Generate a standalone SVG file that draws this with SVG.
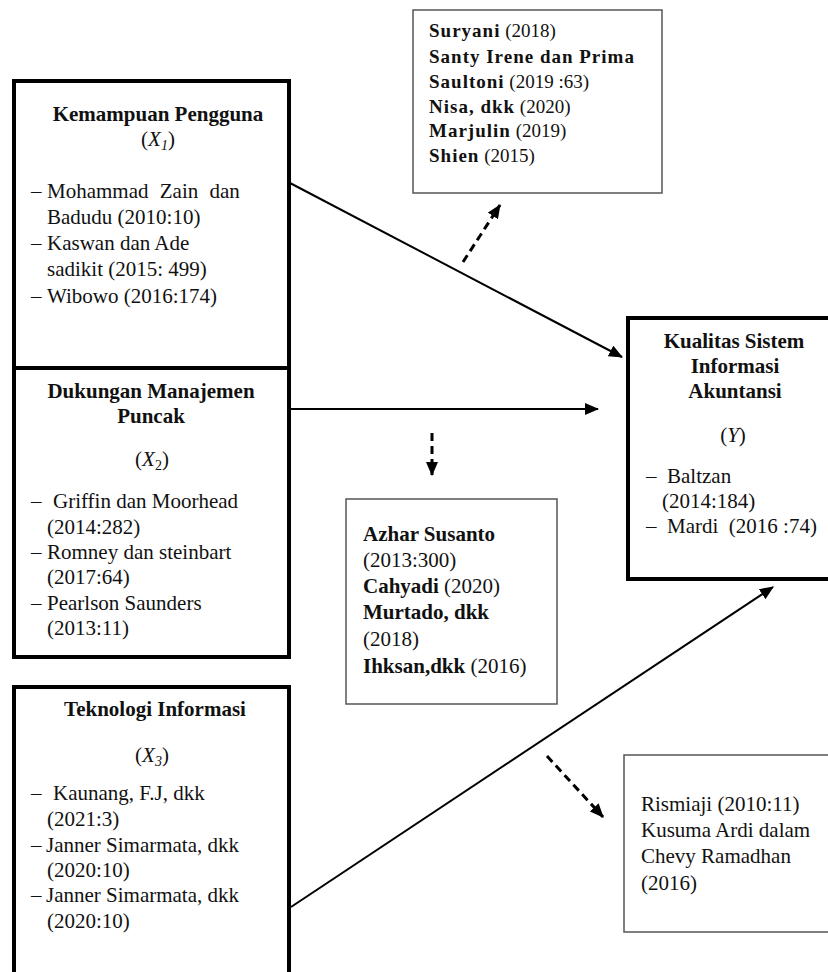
<svg xmlns="http://www.w3.org/2000/svg" width="828" height="972" viewBox="0 0 828 972">
<style>
text{font-family:"Liberation Serif","Times New Roman",serif;font-size:21px;fill:#111}
.b{font-weight:bold}
.i{font-style:italic}
.c{text-anchor:middle}
.thick{fill:#fff;stroke:#000;stroke-width:4}
.thin{fill:#fff;stroke:#555;stroke-width:1.5}
.sm text{font-size:19px}
.sm .b{letter-spacing:1px}
.con{stroke:#000;stroke-width:2;fill:none}
.dash{stroke:#000;stroke-width:3;fill:none;stroke-dasharray:8,5}
</style>
<defs>
<marker id="ah" markerWidth="14" markerHeight="12" refX="13" refY="6" orient="auto" markerUnits="userSpaceOnUse">
<path d="M0,0 L14,6 L0,12 Z" fill="#000"/>
</marker>
</defs>
<rect width="828" height="972" fill="#fff"/>

<g id="ref1" class="sm">
<rect class="thin" x="413" y="10" width="249" height="183"/>
<text x="429" y="37"><tspan class="b">Suryani</tspan> (2018)</text>
<text x="429" y="63" class="b">Santy Irene dan Prima</text>
<text x="429" y="88"><tspan class="b">Saultoni</tspan> (2019 :63)</text>
<text x="429" y="113"><tspan class="b">Nisa, dkk</tspan> (2020)</text>
<text x="429" y="137"><tspan class="b">Marjulin</tspan> (2019)</text>
<text x="429" y="162"><tspan class="b">Shien</tspan> (2015)</text>
</g>

<g id="x1">
<rect class="thick" x="14" y="81" width="275" height="287"/>
<text x="158" y="121" class="b c">Kemampuan Pengguna</text>
<text x="158" y="146" class="c">(<tspan class="i">X</tspan><tspan class="i" font-size="14" dy="4">1</tspan><tspan dy="-4">)</tspan></text>
<text x="31" y="198">–</text><text x="47" y="198" word-spacing="6">Mohammad Zain dan</text>
<text x="47" y="224">Badudu (2010:10)</text>
<text x="31" y="250">–</text><text x="47" y="250">Kaswan dan Ade</text>
<text x="47" y="276">sadikit (2015: 499)</text>
<text x="31" y="303">–</text><text x="47" y="303">Wibowo (2016:174)</text>
</g>

<g id="x2">
<rect class="thick" x="14" y="368" width="275" height="289"/>
<text x="151" y="398" class="b c">Dukungan Manajemen</text>
<text x="151" y="423" class="b c">Puncak</text>
<text x="152" y="466" class="c">(<tspan class="i">X</tspan><tspan font-size="14" dy="4">2</tspan><tspan dy="-4">)</tspan></text>
<text x="31" y="508">–</text><text x="53" y="508">Griffin dan Moorhead</text>
<text x="47" y="534">(2014:282)</text>
<text x="31" y="559">–</text><text x="47" y="559">Romney dan steinbart</text>
<text x="47" y="584">(2017:64)</text>
<text x="31" y="610">–</text><text x="47" y="610">Pearlson Saunders</text>
<text x="47" y="635">(2013:11)</text>
</g>

<g id="x3">
<rect class="thick" x="14" y="687" width="275" height="300"/>
<text x="155" y="716" class="b c">Teknologi Informasi</text>
<text x="152" y="762" class="c">(<tspan class="i">X</tspan><tspan class="i" font-size="14" dy="4">3</tspan><tspan dy="-4">)</tspan></text>
<text x="31" y="800">–</text><text x="53" y="800">Kaunang, F.J, dkk</text>
<text x="47" y="826">(2021:3)</text>
<text x="31" y="852">–</text><text x="46" y="852">Janner Simarmata, dkk</text>
<text x="47" y="877">(2020:10)</text>
<text x="31" y="902">–</text><text x="46" y="902">Janner Simarmata, dkk</text>
<text x="47" y="928">(2020:10)</text>
</g>

<g id="ref2">
<rect class="thin" x="346" y="499" width="211" height="205"/>
<text x="363" y="541" class="b">Azhar Susanto</text>
<text x="363" y="567">(2013:300)</text>
<text x="363" y="593"><tspan class="b">Cahyadi</tspan> (2020)</text>
<text x="363" y="619" class="b">Murtado, dkk</text>
<text x="363" y="646">(2018)</text>
<text x="363" y="673"><tspan class="b">Ihksan,dkk</tspan> (2016)</text>
</g>

<g id="y">
<rect class="thick" x="628" y="318" width="210" height="261"/>
<text x="734" y="348" class="b c">Kualitas Sistem</text>
<text x="735" y="373" class="b c">Informasi</text>
<text x="735" y="398" class="b c">Akuntansi</text>
<text x="733" y="442" class="c">(<tspan class="i">Y</tspan>)</text>
<text x="646" y="483">–</text><text x="667" y="483">Baltzan</text>
<text x="662" y="508">(2014:184)</text>
<text x="646" y="533">–</text><text x="667" y="533" xml:space="preserve">Mardi  (2016 :74)</text>
</g>

<g id="ref3">
<rect class="thin" x="624" y="755" width="214" height="177"/>
<text x="641" y="811">Rismiaji (2010:11)</text>
<text x="641" y="837">Kusuma Ardi dalam</text>
<text x="641" y="863">Chevy Ramadhan</text>
<text x="641" y="890">(2016)</text>
</g>

<g id="connectors">
<line class="con" x1="290" y1="183" x2="622" y2="357" marker-end="url(#ah)"/>
<line class="con" x1="290" y1="409" x2="598" y2="409" marker-end="url(#ah)"/>
<line class="con" x1="291" y1="907" x2="773" y2="587" marker-end="url(#ah)"/>
<line class="dash" x1="463" y1="262" x2="500" y2="205" marker-end="url(#ah)"/>
<line class="dash" x1="432" y1="433" x2="432" y2="475" marker-end="url(#ah)"/>
<line class="dash" x1="547" y1="756" x2="603" y2="817" marker-end="url(#ah)"/>
</g>
</svg>
